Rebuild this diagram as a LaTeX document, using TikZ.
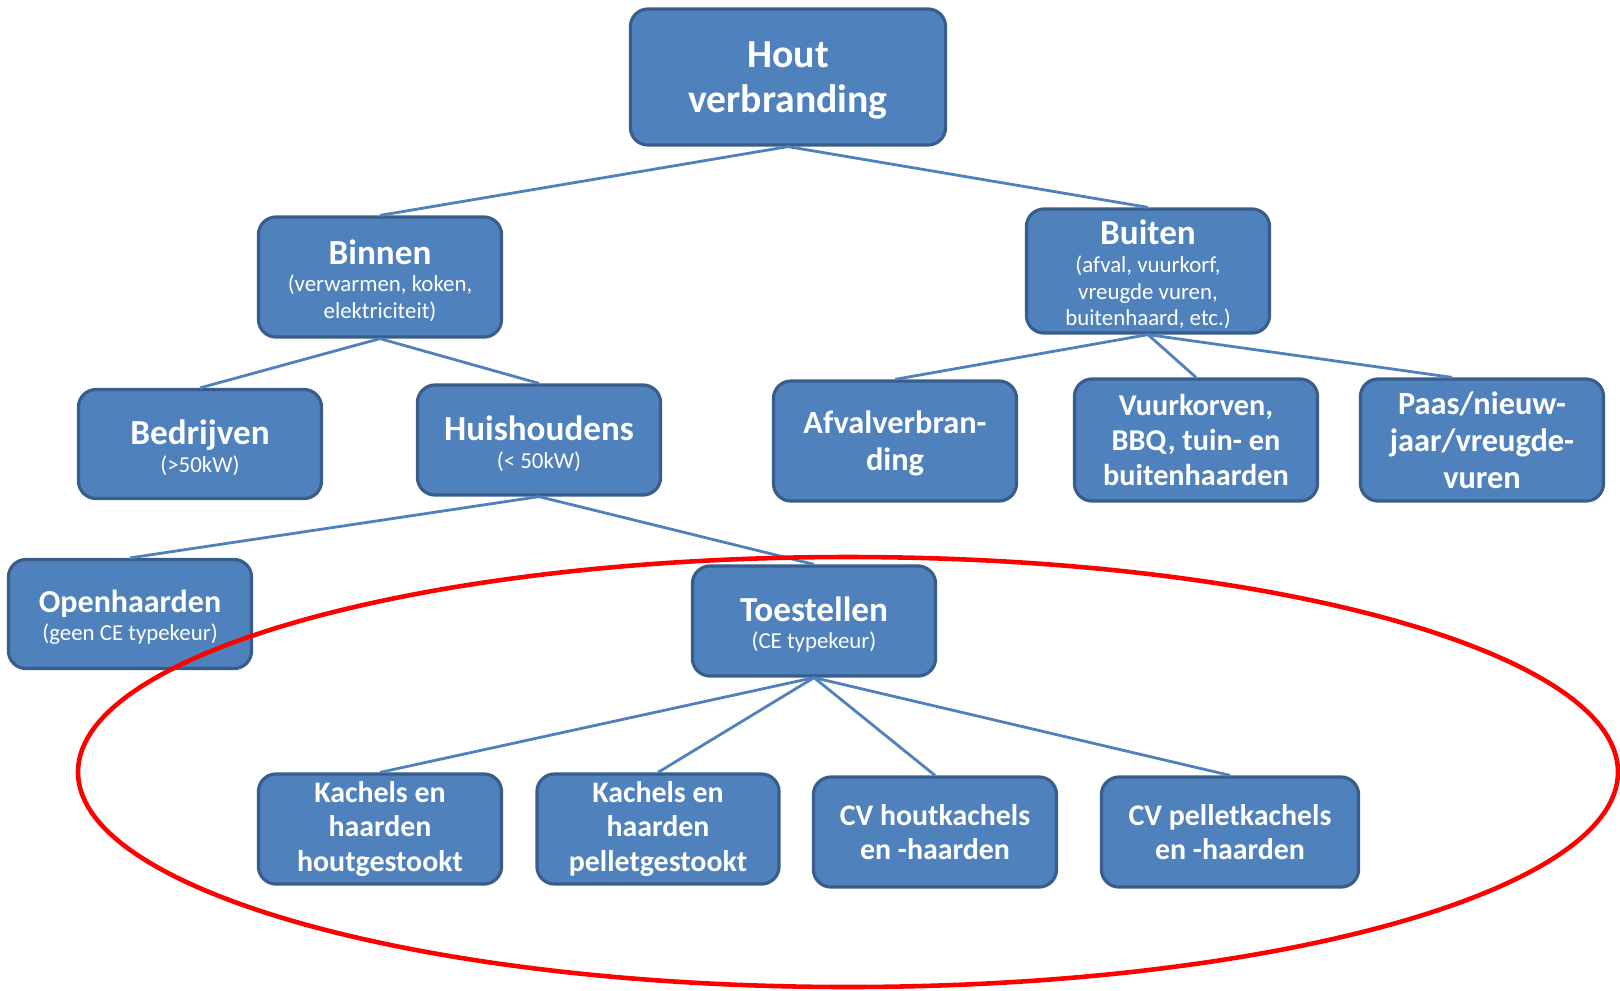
\documentclass[tikz,border=0pt]{standalone}
\usepackage{fontspec}
\setmainfont{Carlito}
\usetikzlibrary{calc}
\definecolor{boxfill}{HTML}{4F81BD}
\definecolor{boxedge}{HTML}{385D8A}
\definecolor{ringred}{HTML}{FF0000}
\newcommand{\boxtitle}{\fontsize{11.3pt}{12.8pt}\selectfont\bfseries}
\newcommand{\boxhead}{\fontsize{10pt}{10pt}\selectfont\bfseries\rule{0pt}{9pt}}
\newcommand{\boxheadsm}{\fontsize{9.1pt}{10pt}\selectfont\bfseries\rule{0pt}{8.4pt}}
\newcommand{\boxsub}{\fontsize{6.5pt}{7.6pt}\selectfont}
\newcommand{\boxleaf}{\fontsize{8.5pt}{9.7pt}\selectfont\bfseries}
\newcommand{\boxmid}{\fontsize{8.6pt}{10pt}\selectfont\bfseries}
\newcommand{\boxbig}{\fontsize{9.2pt}{10.5pt}\selectfont\bfseries}
\begin{document}
\begin{tikzpicture}[x=0.01cm,y=-0.01cm,
  box/.style={draw=boxedge,fill=boxfill,line width=0.9pt,rounded corners=5pt,
    text=white,align=center,inner sep=0pt,minimum width=2.43cm,minimum height=1.1cm},
  link/.style={draw=boxfill,line width=0.8pt},
  ring/.style={draw=ringred,line width=1.3pt}]
\useasboundingbox (0,0) rectangle (1620,990);

% top
\node[box,minimum width=3.15cm,minimum height=1.36cm,font=\boxtitle] (hout) at (788,77) {\rule{0pt}{9.5pt}Hout\\verbranding};

% binnen / buiten
\node[box,minimum height=1.2cm,font=\boxsub] (binnen) at (380,277) {{\boxhead Binnen}\\[0.3pt](verwarmen, koken,\\elektriciteit)};
\node[box,minimum height=1.24cm,font=\boxsub] (buiten) at (1148,271) {{\boxhead Buiten}\\[0.3pt](afval, vuurkorf,\\vreugde vuren,\\buitenhaard, etc.)};

% third row
\node[box,minimum height=1.09cm,font=\boxsub] (bedrijven) at (200,444) {{\boxhead Bedrijven}\\[0.3pt](>50kW)};
\node[box,minimum height=1.1cm,font=\boxsub] (huis) at (539,440) {{\boxhead Huishoudens}\\[0.3pt](< 50kW)};
\node[box,minimum height=1.2cm,font=\boxbig] (afval) at (895,441) {\rule{0pt}{8pt}Afvalverbran-\\ding};
\node[box,minimum height=1.22cm,font=\boxmid] (vuur) at (1196,440) {Vuurkorven,\\BBQ, tuin- en\\buitenhaarden};
\node[box,minimum height=1.22cm,font=\boxbig] (paas) at (1482,440) {Paas/nieuw-\\jaar/vreugde-\\vuren};

% fourth row
\node[box,minimum height=1.09cm,font=\boxsub] (open) at (130,614) {{\boxheadsm Openhaarden}\\[0.3pt](geen CE typekeur)};
\node[box,minimum height=1.1cm,font=\boxsub] (toest) at (814,621) {{\boxhead Toestellen}\\[0.3pt](CE typekeur)};

% toestellen
\node[box,minimum height=1.1cm,font=\boxleaf] (kachhout) at (380,829) {Kachels en\\haarden\\houtgestookt};
\node[box,minimum width=2.42cm,minimum height=1.1cm,font=\boxleaf] (kachpel) at (658,829) {Kachels en\\haarden\\pelletgestookt};
\node[box,minimum height=1.1cm,font=\boxleaf] (cvhout) at (935,832) {CV houtkachels\\en -haarden};
\node[box,minimum width=2.57cm,minimum height=1.1cm,font=\boxleaf] (cvpel) at (1230,832) {CV pelletkachels\\en -haarden};

% links
\draw[link] (hout.south) -- (binnen.north);
\draw[link] (hout.south) -- (buiten.north);
\draw[link] (binnen.south) -- (bedrijven.north);
\draw[link] (binnen.south) -- (huis.north);
\draw[link] (buiten.south) -- (afval.north);
\draw[link] (buiten.south) -- (vuur.north);
\draw[link] (buiten.south) -- ($(paas.north)+(-30,0)$);
\draw[link] (huis.south) -- (open.north);
\draw[link] (huis.south) -- (toest.north);
\foreach \kid in {kachhout,kachpel,cvhout,cvpel}
  \draw[link] (toest.south) -- (\kid.north);

% red ring
\draw[ring] (848,772) ellipse [x radius=770,y radius=215];
\end{tikzpicture}
\end{document}
